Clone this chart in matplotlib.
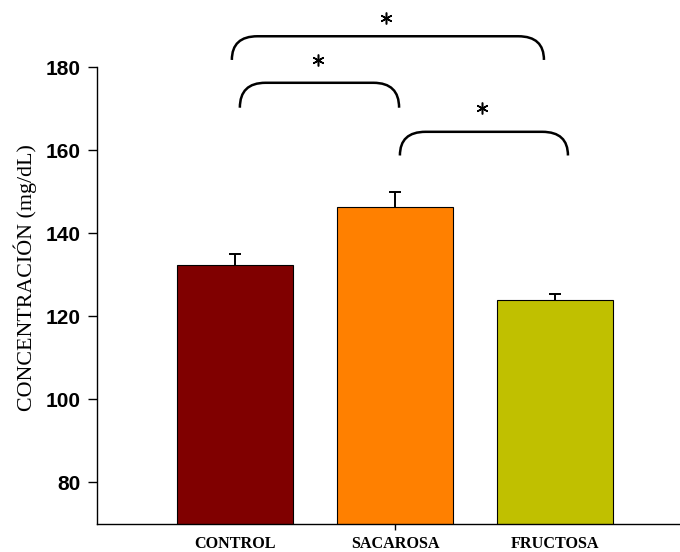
import matplotlib.pyplot as plt
from matplotlib.path import Path
from matplotlib.patches import PathPatch

groups = ['CONTROL', 'SACAROSA', 'FRUCTOSA']
means = [132.3, 146.4, 123.9]
errors = [2.7, 3.6, 1.4]
colors = ['#800000', '#FF8000', '#C0C000']
y_ticks = [80, 100, 120, 140, 160, 180]

fig = plt.figure(figsize=(6.8, 5.52), dpi=100)
ax = fig.add_axes([97/680, 28/552, 583/680, 457/552])

x = list(range(len(groups)))
tops = [m + e for m, e in zip(means, errors)]
ax.bar(x, means, width=0.725, color=colors, edgecolor='black', linewidth=0.8, zorder=2)
# upper error bars only
ax.vlines(x, means, tops, color='black', lw=1.4, zorder=3)
ax.plot(x, tops, ls='none', marker='_', ms=9, mew=1.4, color='black', zorder=3)

ax.set_xlim(-0.8625, 2.78)
ax.set_ylim(70, 180)
ax.set_yticks(y_ticks)
ax.set_yticklabels([str(v) for v in y_ticks], fontweight='bold', fontsize=15,
                   family=['Liberation Sans Narrow', 'Liberation Sans'])
ax.set_xticks(x)
ax.set_xticklabels(groups, fontweight='bold', fontsize=11.6, family='Liberation Serif')
ax.tick_params(axis='y', length=6.5, width=1, pad=5)
ax.tick_params(axis='x', length=4.5, width=1, pad=4)
# only the middle x tick mark is drawn in the original
for i, t in enumerate(ax.xaxis.get_major_ticks()):
    if i != 1:
        t.tick1line.set_visible(False)

ax.spines['top'].set_visible(False)
ax.spines['right'].set_visible(False)
for s in ['left', 'bottom']:
    ax.spines[s].set_linewidth(1)

fig.text(25/680, 1 - 278/552, 'CONCENTRACIÓN (mg/dL)', rotation=90, ha='center',
         va='center', fontsize=15.8, family='Liberation Serif')

# significance brackets: (x0, x1, y_top, y_end, y_star)
def bracket(x0, x1, yt, yb, ys):
    dx = 0.16
    verts = [(x0, yb), (x0, yt), (x0 + dx, yt),
             (x1 - dx, yt),
             (x1, yt), (x1, yb)]
    codes = [Path.MOVETO, Path.CURVE3, Path.CURVE3, Path.LINETO, Path.CURVE3, Path.CURVE3]
    ax.add_patch(PathPatch(Path(verts, codes), fill=False, lw=1.8, color='black',
                           clip_on=False, capstyle='butt'))
    ax.plot([(x0 + x1) / 2 - 0.01], [ys], ls='none', marker=(6, 2, 0), ms=8.5,
            mew=1.1, color='black', clip_on=False)

bracket(-0.02, 1.93, 187.4, 181.7, 191.8)
bracket(0.03, 1.025, 176.2, 170.2, 181.7)
bracket(1.03, 2.08, 164.4, 158.7, 170.2)

fig.savefig('out.png', dpi=100)
